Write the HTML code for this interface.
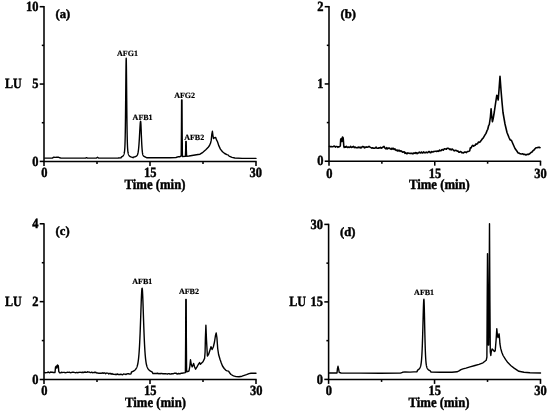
<!DOCTYPE html>
<html><head><meta charset="utf-8"><title>Chromatograms</title>
<style>html,body{margin:0;padding:0;background:#fff;}svg{display:block}</style></head>
<body><svg width="550" height="412" viewBox="0 0 550 412">
<rect width="550" height="412" fill="#fff"/>
<g filter="url(#bl)">
<path d="M44.0,6.05 V161.4 H256.65" fill="none" stroke="#000" stroke-width="1.55"/>
<path d="M39.7,6.7 H44.0" stroke="#000" stroke-width="1.55"/>
<path d="M39.7,84.05 H44.0" stroke="#000" stroke-width="1.55"/>
<path d="M39.7,161.4 H44.0" stroke="#000" stroke-width="1.55"/>
<path d="M41.8,45.375 H44.0" stroke="#000" stroke-width="1.55"/>
<path d="M41.8,122.725 H44.0" stroke="#000" stroke-width="1.55"/>
<path d="M44.0,161.4 V165.9" stroke="#000" stroke-width="1.55"/>
<path d="M150.0,161.4 V165.9" stroke="#000" stroke-width="1.55"/>
<path d="M256,161.4 V165.9" stroke="#000" stroke-width="1.55"/>
<path d="M97.0,161.4 V163.9" stroke="#000" stroke-width="1.55"/>
<path d="M203.0,161.4 V163.9" stroke="#000" stroke-width="1.55"/>
<text transform="translate(38.4,10.8) scale(0.89,1)" text-anchor="end" font-size="14.0" text-rendering="geometricPrecision" font-family="Liberation Serif, serif" font-weight="bold" stroke="#000" stroke-width="0.45">10</text>
<text transform="translate(38.4,88.14999999999999) scale(0.89,1)" text-anchor="end" font-size="14.0" text-rendering="geometricPrecision" font-family="Liberation Serif, serif" font-weight="bold" stroke="#000" stroke-width="0.45">5</text>
<text transform="translate(38.4,165.5) scale(0.89,1)" text-anchor="end" font-size="14.0" text-rendering="geometricPrecision" font-family="Liberation Serif, serif" font-weight="bold" stroke="#000" stroke-width="0.45">0</text>
<text transform="translate(44.3,177.3) scale(0.89,1)" text-anchor="middle" font-size="14.0" text-rendering="geometricPrecision" font-family="Liberation Serif, serif" font-weight="bold" stroke="#000" stroke-width="0.45">0</text>
<text transform="translate(150.3,177.3) scale(0.89,1)" text-anchor="middle" font-size="14.0" text-rendering="geometricPrecision" font-family="Liberation Serif, serif" font-weight="bold" stroke="#000" stroke-width="0.45">15</text>
<text transform="translate(255.8,177.3) scale(0.89,1)" text-anchor="middle" font-size="14.0" text-rendering="geometricPrecision" font-family="Liberation Serif, serif" font-weight="bold" stroke="#000" stroke-width="0.45">30</text>
<text transform="translate(155,188.70000000000002) scale(0.89,1)" text-anchor="middle" font-size="14.3" text-rendering="geometricPrecision" font-family="Liberation Serif, serif" font-weight="bold" stroke="#000" stroke-width="0.45">Time (min)</text>
<text transform="translate(5.0,88.25) scale(0.86,1)" text-anchor="start" font-size="14.0" text-rendering="geometricPrecision" font-family="Liberation Serif, serif" font-weight="bold" stroke="#000" stroke-width="0.45">LU</text>
<text transform="translate(55.6,17.6) scale(1.0,1)" text-anchor="start" font-size="12.6" text-rendering="geometricPrecision" font-family="Liberation Serif, serif" font-weight="bold" stroke="#000" stroke-width="0.45">(a)</text>
<path d="M44.60,158.10 L52.30,158.10 L53.80,157.20 L55.30,157.40 L56.80,157.10 L58.30,157.20 L59.80,157.80 L61.00,158.10 L85.50,158.10 L86.50,157.60 L87.50,158.10 L96.50,158.10 L97.50,157.20 L98.50,158.10 L118.00,158.00 L121.00,157.80 L121.50,156.92 L121.60,156.88 L121.70,156.84 L121.80,156.80 L121.90,156.75 L122.00,156.71 L122.10,156.65 L122.20,156.60 L122.30,156.53 L122.40,156.47 L122.50,156.40 L122.60,156.32 L122.70,156.24 L122.80,156.15 L122.90,156.05 L123.00,155.94 L123.10,155.82 L123.20,155.70 L123.30,155.55 L123.40,155.40 L123.50,155.22 L123.60,155.03 L123.70,154.82 L123.80,154.58 L123.90,154.31 L124.00,154.01 L124.10,153.66 L124.20,153.26 L124.30,152.79 L124.40,152.24 L124.50,151.57 L124.60,150.73 L124.70,149.66 L124.80,148.28 L124.90,146.46 L125.00,144.06 L125.10,140.89 L125.20,136.79 L125.30,131.55 L125.40,125.04 L125.50,117.19 L125.60,108.05 L125.70,97.83 L125.80,87.01 L125.90,76.37 L126.00,67.09 L126.10,60.63 L126.20,58.30 L126.30,60.63 L126.40,67.09 L126.50,76.37 L126.60,87.01 L126.70,97.83 L126.80,108.05 L126.90,117.19 L127.00,125.04 L127.10,131.55 L127.20,136.79 L127.30,140.89 L127.40,144.06 L127.50,146.46 L127.60,148.28 L127.70,149.66 L127.80,150.73 L127.90,151.57 L128.00,152.24 L128.10,152.79 L128.20,153.26 L128.30,153.66 L128.40,154.01 L128.50,154.31 L128.60,154.58 L128.70,154.82 L128.80,155.03 L128.90,155.22 L129.00,155.40 L129.10,155.55 L129.20,155.70 L129.30,155.82 L129.40,155.94 L129.50,156.05 L129.60,156.15 L129.70,156.24 L129.80,156.32 L129.90,156.40 L130.00,156.47 L130.10,156.53 L130.20,156.60 L130.30,156.65 L130.40,156.71 L130.50,156.75 L130.60,156.80 L130.70,156.84 L130.80,156.88 L130.90,156.92 L131.00,156.96 L133.00,157.70 L133.50,157.11 L133.60,157.09 L133.70,157.08 L133.80,157.06 L133.90,157.04 L134.00,157.02 L134.10,157.00 L134.20,156.98 L134.30,156.96 L134.40,156.93 L134.50,156.91 L134.60,156.88 L134.70,156.86 L134.80,156.83 L134.90,156.80 L135.00,156.77 L135.10,156.74 L135.20,156.70 L135.30,156.67 L135.40,156.63 L135.50,156.59 L135.60,156.55 L135.70,156.50 L135.80,156.45 L135.90,156.40 L136.00,156.35 L136.10,156.29 L136.20,156.23 L136.30,156.17 L136.40,156.10 L136.50,156.02 L136.60,155.94 L136.70,155.84 L136.80,155.74 L136.90,155.63 L137.00,155.51 L137.10,155.37 L137.20,155.22 L137.30,155.05 L137.40,154.85 L137.50,154.62 L137.60,154.37 L137.70,154.08 L137.80,153.74 L137.90,153.36 L138.00,152.92 L138.10,152.42 L138.20,151.86 L138.30,151.21 L138.40,150.49 L138.50,149.68 L138.60,148.77 L138.70,147.76 L138.80,146.64 L138.90,145.42 L139.00,144.09 L139.10,142.66 L139.20,141.13 L139.30,139.50 L139.40,137.79 L139.50,136.01 L139.60,134.19 L139.70,132.34 L139.80,130.50 L139.90,128.70 L140.00,126.99 L140.10,125.42 L140.20,124.03 L140.30,122.88 L140.40,122.02 L140.50,121.48 L140.60,121.30 L140.70,121.64 L140.80,122.62 L140.90,124.17 L141.00,126.15 L141.10,128.43 L141.20,130.89 L141.30,133.41 L141.40,135.92 L141.50,138.34 L141.60,140.62 L141.70,142.74 L141.80,144.67 L141.90,146.39 L142.00,147.92 L142.10,149.26 L142.20,150.41 L142.30,151.39 L142.40,152.22 L142.50,152.92 L142.60,153.51 L142.70,153.99 L142.80,154.40 L142.90,154.73 L143.00,155.02 L143.10,155.25 L143.20,155.46 L143.30,155.63 L143.40,155.78 L143.50,155.91 L143.60,156.02 L143.70,156.13 L143.80,156.22 L143.90,156.30 L144.00,156.38 L144.10,156.45 L144.20,156.51 L144.30,156.57 L144.40,156.63 L144.50,156.68 L144.60,156.73 L144.70,156.77 L144.80,156.81 L144.90,156.85 L145.00,156.89 L145.10,156.92 L145.20,156.96 L145.30,156.99 L145.40,157.01 L145.50,157.04 L147.00,157.80 L170.00,157.80 L176.00,157.50 L178.50,156.60 L180.00,156.70 L181.20,155.90 L181.45,130.00 L181.60,99.90 L182.00,99.90 L182.15,130.00 L182.40,156.50 L185.40,156.40 L185.65,150.00 L185.80,141.40 L186.20,141.40 L186.35,150.00 L186.60,156.20 L189.00,156.00 L192.00,155.50 L195.00,155.00 L198.00,154.50 L200.00,154.20 L202.90,152.30 L205.80,149.80 L208.00,147.60 L209.50,145.50 L210.50,143.30 L211.20,140.40 L211.80,134.50 L212.40,131.30 L212.90,135.30 L213.50,138.60 L214.50,137.70 L215.70,137.50 L216.40,139.60 L217.50,141.80 L218.90,145.90 L220.40,149.10 L222.50,151.70 L224.70,153.50 L226.90,154.60 L228.00,154.90 L229.10,156.10 L232.00,157.40 L234.90,158.00 L242.20,158.40 L256.00,158.40" fill="none" stroke="#000" stroke-width="1.4" stroke-linejoin="round" stroke-linecap="round"/>
<text transform="translate(127.5,56.2) scale(1.0,1)" text-anchor="middle" font-size="8" text-rendering="geometricPrecision" font-family="Liberation Serif, serif" font-weight="bold" stroke="#000" stroke-width="0.2">AFG1</text>
<text transform="translate(142.6,119.6) scale(1.0,1)" text-anchor="middle" font-size="8" text-rendering="geometricPrecision" font-family="Liberation Serif, serif" font-weight="bold" stroke="#000" stroke-width="0.2">AFB1</text>
<text transform="translate(184.6,98.2) scale(1.0,1)" text-anchor="middle" font-size="8" text-rendering="geometricPrecision" font-family="Liberation Serif, serif" font-weight="bold" stroke="#000" stroke-width="0.2">AFG2</text>
<text transform="translate(194.2,139.6) scale(1.0,1)" text-anchor="middle" font-size="8" text-rendering="geometricPrecision" font-family="Liberation Serif, serif" font-weight="bold" stroke="#000" stroke-width="0.2">AFB2</text>
<path d="M329.0,6.05 V161.2 H541.15" fill="none" stroke="#000" stroke-width="1.55"/>
<path d="M324.7,6.7 H329.0" stroke="#000" stroke-width="1.55"/>
<path d="M324.7,83.94999999999999 H329.0" stroke="#000" stroke-width="1.55"/>
<path d="M324.7,161.2 H329.0" stroke="#000" stroke-width="1.55"/>
<path d="M326.8,45.324999999999996 H329.0" stroke="#000" stroke-width="1.55"/>
<path d="M326.8,122.57499999999999 H329.0" stroke="#000" stroke-width="1.55"/>
<path d="M329.0,161.2 V165.7" stroke="#000" stroke-width="1.55"/>
<path d="M434.75,161.2 V165.7" stroke="#000" stroke-width="1.55"/>
<path d="M540.5,161.2 V165.7" stroke="#000" stroke-width="1.55"/>
<path d="M381.875,161.2 V163.7" stroke="#000" stroke-width="1.55"/>
<path d="M487.625,161.2 V163.7" stroke="#000" stroke-width="1.55"/>
<text transform="translate(323.4,10.8) scale(0.89,1)" text-anchor="end" font-size="14.0" text-rendering="geometricPrecision" font-family="Liberation Serif, serif" font-weight="bold" stroke="#000" stroke-width="0.45">2</text>
<text transform="translate(323.4,88.04999999999998) scale(0.89,1)" text-anchor="end" font-size="14.0" text-rendering="geometricPrecision" font-family="Liberation Serif, serif" font-weight="bold" stroke="#000" stroke-width="0.45">1</text>
<text transform="translate(323.4,165.29999999999998) scale(0.89,1)" text-anchor="end" font-size="14.0" text-rendering="geometricPrecision" font-family="Liberation Serif, serif" font-weight="bold" stroke="#000" stroke-width="0.45">0</text>
<text transform="translate(329.3,177.6) scale(0.89,1)" text-anchor="middle" font-size="14.0" text-rendering="geometricPrecision" font-family="Liberation Serif, serif" font-weight="bold" stroke="#000" stroke-width="0.45">0</text>
<text transform="translate(435.05,177.6) scale(0.89,1)" text-anchor="middle" font-size="14.0" text-rendering="geometricPrecision" font-family="Liberation Serif, serif" font-weight="bold" stroke="#000" stroke-width="0.45">15</text>
<text transform="translate(540.5,177.6) scale(0.89,1)" text-anchor="middle" font-size="14.0" text-rendering="geometricPrecision" font-family="Liberation Serif, serif" font-weight="bold" stroke="#000" stroke-width="0.45">30</text>
<text transform="translate(439.4,189.0) scale(0.89,1)" text-anchor="middle" font-size="14.3" text-rendering="geometricPrecision" font-family="Liberation Serif, serif" font-weight="bold" stroke="#000" stroke-width="0.45">Time (min)</text>
<text transform="translate(340.5,17.6) scale(1.0,1)" text-anchor="start" font-size="12.6" text-rendering="geometricPrecision" font-family="Liberation Serif, serif" font-weight="bold" stroke="#000" stroke-width="0.45">(b)</text>
<path d="M329.50,146.31 L330.33,146.67 L331.17,146.49 L332.00,146.76 L332.83,146.80 L333.67,146.21 L334.50,146.16 L335.33,147.09 L336.17,146.47 L337.00,146.46 L337.83,147.31 L338.67,146.75 L339.50,146.80 L340.30,146.00 L340.70,139.50 L341.30,138.50 L341.90,141.50 L342.50,137.00 L343.20,138.00 L343.80,146.30 L344.20,147.40 L344.92,146.88 L345.64,147.14 L346.35,146.42 L347.07,147.16 L347.79,147.52 L348.51,147.02 L349.23,147.36 L349.95,147.27 L350.66,146.37 L351.38,147.42 L352.10,147.19 L352.82,146.77 L353.54,146.37 L354.25,147.64 L354.97,147.06 L355.69,147.45 L356.41,147.70 L357.13,147.47 L357.85,147.79 L358.56,147.02 L359.28,147.64 L360.00,147.12 L360.73,147.85 L361.45,147.77 L362.18,146.60 L362.91,146.65 L363.64,146.78 L364.36,147.90 L365.09,147.10 L365.82,147.39 L366.55,146.90 L367.27,147.21 L368.00,147.03 L369.00,146.28 L370.00,147.13 L371.00,147.63 L371.73,148.12 L372.47,147.80 L373.20,148.18 L373.93,148.09 L374.67,148.30 L375.40,147.84 L376.13,147.09 L376.87,148.15 L377.60,148.32 L378.33,148.24 L379.07,147.75 L379.80,147.98 L380.53,147.24 L381.27,148.18 L382.00,147.81 L383.00,147.03 L384.00,146.35 L385.00,148.13 L386.00,148.93 L386.75,147.67 L387.50,148.82 L388.25,148.32 L389.00,148.01 L389.75,148.31 L390.50,149.10 L391.25,149.34 L392.00,148.18 L392.75,149.12 L393.50,148.35 L394.25,149.44 L395.00,148.95 L395.71,150.06 L396.43,150.49 L397.14,150.07 L397.86,151.09 L398.57,150.34 L399.29,150.28 L400.00,151.35 L400.71,150.73 L401.43,151.20 L402.14,151.75 L402.86,152.28 L403.57,151.83 L404.29,151.89 L405.00,153.35 L405.71,152.59 L406.43,153.63 L407.14,153.61 L407.86,152.90 L408.57,153.10 L409.29,153.26 L410.00,153.52 L410.71,153.41 L411.43,153.32 L412.14,153.37 L412.86,153.82 L413.57,153.13 L414.29,152.98 L415.00,153.38 L415.71,152.62 L416.43,152.68 L417.14,153.66 L417.86,152.94 L418.57,152.94 L419.29,152.10 L420.00,152.67 L420.71,152.88 L421.43,151.99 L422.14,152.85 L422.86,152.83 L423.57,151.93 L424.29,152.73 L425.00,152.45 L425.71,152.73 L426.43,152.19 L427.14,152.68 L427.86,152.69 L428.57,151.57 L429.29,151.58 L430.00,152.46 L430.73,152.80 L431.45,151.64 L432.18,151.86 L432.91,151.98 L433.64,151.48 L434.36,151.45 L435.09,151.28 L435.82,151.28 L436.55,151.53 L437.27,150.99 L438.00,151.02 L438.75,151.40 L439.50,150.07 L440.25,150.67 L441.00,150.70 L441.75,149.85 L442.50,149.51 L443.25,150.17 L444.00,149.11 L444.80,148.85 L445.60,149.04 L446.40,149.26 L447.20,148.18 L448.00,148.33 L448.80,148.53 L449.60,149.46 L450.40,149.05 L451.20,149.85 L452.00,149.00 L452.75,149.51 L453.50,150.23 L454.25,150.83 L455.00,150.43 L455.75,150.34 L456.50,150.43 L457.25,151.29 L458.00,151.04 L458.75,152.11 L459.50,152.31 L460.25,151.48 L461.00,151.77 L461.75,152.71 L462.50,152.61 L463.25,153.01 L464.00,152.47 L464.80,151.96 L465.60,152.03 L466.40,152.60 L467.20,151.64 L468.00,151.57 L468.85,151.28 L469.70,150.88 L470.30,147.86 L471.15,147.88 L472.00,145.98 L472.80,145.26 L473.60,146.16 L474.40,145.57 L475.20,145.23 L476.00,143.90 L476.80,144.18 L477.60,143.64 L478.40,142.08 L479.20,142.37 L480.00,142.01 L480.75,140.99 L481.50,140.03 L482.25,138.93 L483.00,138.26 L484.00,136.59 L485.00,134.85 L486.00,133.38 L487.00,130.68 L487.77,129.30 L488.53,125.98 L489.30,124.50 L490.40,117.00 L491.10,108.80 L491.70,116.00 L492.40,121.70 L493.20,118.50 L494.30,112.00 L495.60,103.00 L496.80,95.20 L497.60,97.00 L498.20,100.00 L499.00,90.00 L500.00,76.20 L501.00,90.00 L502.00,102.00 L503.00,112.50 L505.00,124.00 L507.00,132.50 L509.00,137.50 L510.00,139.70 L511.50,140.50 L513.00,144.00 L515.00,148.50 L517.00,151.30 L518.00,152.86 L518.80,152.97 L519.60,153.48 L520.40,153.76 L521.20,154.06 L522.00,154.07 L522.80,153.72 L523.60,154.54 L524.40,154.18 L525.20,154.46 L526.00,154.95 L526.80,154.60 L527.60,154.28 L528.40,154.54 L529.20,154.02 L530.00,153.56 L531.00,152.48 L532.00,152.03 L533.00,150.68 L534.00,150.05 L535.00,148.77 L536.00,147.73 L537.00,147.63 L538.00,147.49 L539.00,147.15 L540.00,147.70" fill="none" stroke="#000" stroke-width="1.6" stroke-linejoin="round" stroke-linecap="round"/>
<path d="M44.0,223.15 V379.5 H256.65" fill="none" stroke="#000" stroke-width="1.55"/>
<path d="M39.7,223.8 H44.0" stroke="#000" stroke-width="1.55"/>
<path d="M39.7,301.65 H44.0" stroke="#000" stroke-width="1.55"/>
<path d="M39.7,379.5 H44.0" stroke="#000" stroke-width="1.55"/>
<path d="M41.8,262.725 H44.0" stroke="#000" stroke-width="1.55"/>
<path d="M41.8,340.575 H44.0" stroke="#000" stroke-width="1.55"/>
<path d="M44.0,379.5 V384.0" stroke="#000" stroke-width="1.55"/>
<path d="M150.0,379.5 V384.0" stroke="#000" stroke-width="1.55"/>
<path d="M256,379.5 V384.0" stroke="#000" stroke-width="1.55"/>
<path d="M97.0,379.5 V382.0" stroke="#000" stroke-width="1.55"/>
<path d="M203.0,379.5 V382.0" stroke="#000" stroke-width="1.55"/>
<text transform="translate(38.4,227.9) scale(0.89,1)" text-anchor="end" font-size="14.0" text-rendering="geometricPrecision" font-family="Liberation Serif, serif" font-weight="bold" stroke="#000" stroke-width="0.45">4</text>
<text transform="translate(38.4,305.75) scale(0.89,1)" text-anchor="end" font-size="14.0" text-rendering="geometricPrecision" font-family="Liberation Serif, serif" font-weight="bold" stroke="#000" stroke-width="0.45">2</text>
<text transform="translate(38.4,383.6) scale(0.89,1)" text-anchor="end" font-size="14.0" text-rendering="geometricPrecision" font-family="Liberation Serif, serif" font-weight="bold" stroke="#000" stroke-width="0.45">0</text>
<text transform="translate(44.3,395.4) scale(0.89,1)" text-anchor="middle" font-size="14.0" text-rendering="geometricPrecision" font-family="Liberation Serif, serif" font-weight="bold" stroke="#000" stroke-width="0.45">0</text>
<text transform="translate(150.3,395.4) scale(0.89,1)" text-anchor="middle" font-size="14.0" text-rendering="geometricPrecision" font-family="Liberation Serif, serif" font-weight="bold" stroke="#000" stroke-width="0.45">15</text>
<text transform="translate(256.3,395.4) scale(0.89,1)" text-anchor="middle" font-size="14.0" text-rendering="geometricPrecision" font-family="Liberation Serif, serif" font-weight="bold" stroke="#000" stroke-width="0.45">30</text>
<text transform="translate(155.5,406.7) scale(0.89,1)" text-anchor="middle" font-size="14.3" text-rendering="geometricPrecision" font-family="Liberation Serif, serif" font-weight="bold" stroke="#000" stroke-width="0.45">Time (min)</text>
<text transform="translate(5.0,305.84999999999997) scale(0.86,1)" text-anchor="start" font-size="14.0" text-rendering="geometricPrecision" font-family="Liberation Serif, serif" font-weight="bold" stroke="#000" stroke-width="0.45">LU</text>
<text transform="translate(55.6,234.70000000000002) scale(1.0,1)" text-anchor="start" font-size="12.6" text-rendering="geometricPrecision" font-family="Liberation Serif, serif" font-weight="bold" stroke="#000" stroke-width="0.45">(c)</text>
<path d="M44.60,372.56 L45.47,372.70 L46.33,372.61 L47.20,372.64 L48.07,371.92 L48.93,372.50 L49.80,372.73 L50.67,372.01 L51.53,372.23 L52.40,372.24 L53.27,372.49 L54.13,372.41 L55.00,372.48 L55.50,367.25 L56.30,366.05 L56.80,368.10 L57.50,364.96 L58.30,365.66 L58.80,371.61 L59.65,372.73 L60.50,372.92 L61.31,372.22 L62.11,372.59 L62.92,372.42 L63.72,372.41 L64.53,372.44 L65.33,372.70 L66.14,372.64 L66.94,372.43 L67.75,372.27 L68.56,372.39 L69.36,372.20 L70.17,372.58 L70.97,372.72 L71.78,372.41 L72.58,372.14 L73.39,372.22 L74.19,372.39 L75.00,372.59 L75.83,372.73 L76.67,372.35 L77.50,372.70 L78.33,372.52 L79.17,372.33 L80.00,372.25 L80.83,372.34 L81.67,372.50 L82.50,372.23 L83.33,372.45 L84.17,372.22 L85.00,372.00 L85.83,372.24 L86.67,372.36 L87.50,371.78 L88.33,372.08 L89.17,372.06 L90.00,372.44 L90.83,372.57 L91.67,372.14 L92.50,372.68 L93.33,372.66 L94.17,372.26 L95.00,372.52 L95.83,372.29 L96.67,372.98 L97.50,372.92 L98.33,373.20 L99.17,373.19 L100.00,373.15 L100.80,373.27 L101.60,373.18 L102.40,372.82 L103.20,373.32 L104.00,372.85 L104.80,373.04 L105.60,373.67 L106.40,373.07 L107.20,373.17 L108.00,373.24 L108.80,374.00 L109.60,373.43 L110.40,373.35 L111.20,374.15 L112.00,373.56 L112.80,374.27 L113.60,374.18 L114.40,374.38 L115.20,374.55 L116.00,374.27 L116.80,374.53 L117.60,373.90 L118.40,374.62 L119.20,374.45 L120.00,374.69 L120.88,374.10 L121.75,374.62 L122.62,374.74 L123.50,373.91 L124.38,374.09 L125.25,374.26 L126.12,374.45 L127.00,373.87 L127.80,373.75 L128.60,373.75 L129.40,374.02 L130.20,374.09 L131.00,373.80 L131.50,371.97 L131.60,371.94 L131.70,371.91 L131.80,371.87 L131.90,371.84 L132.00,371.80 L132.10,371.76 L132.20,371.73 L132.30,371.69 L132.40,371.65 L132.50,371.61 L132.60,371.56 L132.70,371.52 L132.80,371.47 L132.90,371.43 L133.00,371.38 L133.10,371.33 L133.20,371.28 L133.30,371.22 L133.40,371.17 L133.50,371.11 L133.60,371.06 L133.70,371.00 L133.80,370.93 L133.90,370.87 L134.00,370.80 L134.10,370.73 L134.20,370.66 L134.30,370.59 L134.40,370.51 L134.50,370.43 L134.60,370.35 L134.70,370.26 L134.80,370.17 L134.90,370.08 L135.00,369.98 L135.10,369.88 L135.20,369.78 L135.30,369.67 L135.40,369.56 L135.50,369.44 L135.60,369.32 L135.70,369.19 L135.80,369.05 L135.90,368.91 L136.00,368.76 L136.10,368.61 L136.20,368.44 L136.30,368.27 L136.40,368.08 L136.50,367.89 L136.60,367.68 L136.70,367.47 L136.80,367.24 L136.90,366.99 L137.00,366.72 L137.10,366.44 L137.20,366.14 L137.30,365.81 L137.40,365.46 L137.50,365.09 L137.60,364.68 L137.70,364.24 L137.80,363.76 L137.90,363.25 L138.00,362.69 L138.10,362.08 L138.20,361.43 L138.30,360.71 L138.40,359.94 L138.50,359.11 L138.60,358.20 L138.70,357.22 L138.80,356.17 L138.90,355.03 L139.00,353.80 L139.10,352.47 L139.20,351.06 L139.30,349.54 L139.40,347.91 L139.50,346.18 L139.60,344.34 L139.70,342.39 L139.80,340.32 L139.90,338.14 L140.00,335.85 L140.10,333.45 L140.20,330.95 L140.30,328.35 L140.40,325.65 L140.50,322.88 L140.60,320.04 L140.70,317.14 L140.80,314.21 L140.90,311.28 L141.00,308.36 L141.10,305.48 L141.20,302.69 L141.30,300.03 L141.40,297.53 L141.50,295.24 L141.60,293.20 L141.70,291.46 L141.80,290.06 L141.90,289.04 L142.00,288.41 L142.10,288.20 L142.20,288.42 L142.30,289.08 L142.40,290.16 L142.50,291.64 L142.60,293.46 L142.70,295.59 L142.80,297.99 L142.90,300.59 L143.00,303.36 L143.10,306.25 L143.20,309.22 L143.30,312.23 L143.40,315.24 L143.50,318.24 L143.60,321.20 L143.70,324.09 L143.80,326.90 L143.90,329.63 L144.00,332.25 L144.10,334.76 L144.20,337.17 L144.30,339.45 L144.40,341.62 L144.50,343.67 L144.60,345.60 L144.70,347.41 L144.80,349.11 L144.90,350.70 L145.00,352.18 L145.10,353.55 L145.20,354.83 L145.30,356.02 L145.40,357.11 L145.50,358.13 L145.60,359.06 L145.70,359.92 L145.80,360.71 L145.90,361.44 L146.00,362.12 L146.10,362.74 L146.20,363.30 L146.30,363.83 L146.40,364.31 L146.50,364.76 L146.60,365.17 L146.70,365.55 L146.80,365.90 L146.90,366.23 L147.00,366.54 L147.10,366.82 L147.20,367.08 L147.30,367.33 L147.40,367.56 L147.50,367.78 L147.60,367.99 L147.70,368.18 L147.80,368.36 L147.90,368.54 L148.00,368.70 L148.10,368.85 L148.20,369.00 L148.30,369.14 L148.40,369.28 L148.50,369.41 L148.60,369.53 L148.70,369.65 L148.80,369.76 L148.90,369.87 L149.00,369.97 L149.10,370.07 L149.20,370.17 L149.30,370.26 L149.40,370.35 L149.50,370.43 L149.60,370.51 L149.70,370.59 L149.80,370.67 L149.90,370.74 L150.00,370.81 L150.10,370.88 L150.20,370.94 L150.30,371.01 L150.40,371.07 L150.50,371.13 L150.60,371.19 L150.70,371.24 L150.80,371.30 L150.90,371.35 L151.00,371.40 L151.10,371.45 L151.20,371.49 L151.30,371.54 L151.40,371.58 L151.50,371.63 L151.60,371.67 L151.70,371.71 L151.80,371.75 L151.90,371.79 L152.00,371.82 L153.00,373.53 L153.88,373.49 L154.75,373.50 L155.62,373.46 L156.50,373.49 L157.38,373.25 L158.25,373.53 L159.12,373.84 L160.00,373.44 L160.83,373.71 L161.67,373.33 L162.50,373.73 L163.33,373.81 L164.17,373.79 L165.00,373.71 L165.83,373.72 L166.67,373.87 L167.50,374.08 L168.33,373.59 L169.17,373.58 L170.00,374.07 L170.86,374.11 L171.71,373.74 L172.57,373.60 L173.43,373.71 L174.29,373.25 L175.14,373.22 L176.00,373.09 L177.00,374.06 L177.83,373.74 L178.67,373.55 L179.50,373.73 L180.33,373.78 L181.17,373.19 L182.00,373.20 L185.40,372.60 L185.65,340.00 L185.80,299.40 L186.20,299.40 L186.35,340.00 L186.60,371.70 L187.60,371.50 L189.00,371.00 L189.90,366.00 L190.50,359.80 L191.30,364.50 L192.20,366.90 L193.60,363.50 L194.60,367.00 L195.60,369.20 L197.00,366.90 L198.30,364.50 L199.60,362.60 L200.40,364.30 L201.70,363.00 L203.00,361.80 L204.60,358.40 L205.10,352.00 L205.40,338.00 L205.90,325.30 L206.50,340.00 L207.40,356.00 L208.70,354.00 L210.00,350.00 L211.00,346.70 L212.10,349.50 L213.30,347.00 L214.50,342.00 L215.40,336.00 L216.20,333.00 L216.90,337.50 L217.70,348.50 L218.60,354.50 L220.00,359.20 L221.30,363.00 L222.50,366.00 L224.20,368.50 L225.90,370.30 L227.20,370.90 L228.50,371.10 L229.80,373.00 L231.00,374.50 L233.50,375.80 L236.10,376.60 L239.00,376.70 L242.00,376.20 L246.50,374.60 L249.00,373.60 L251.00,373.20 L256.00,373.20" fill="none" stroke="#000" stroke-width="1.4" stroke-linejoin="round" stroke-linecap="round"/>
<text transform="translate(142.3,284) scale(1.0,1)" text-anchor="middle" font-size="8" text-rendering="geometricPrecision" font-family="Liberation Serif, serif" font-weight="bold" stroke="#000" stroke-width="0.2">AFB1</text>
<text transform="translate(188.9,294) scale(1.0,1)" text-anchor="middle" font-size="8" text-rendering="geometricPrecision" font-family="Liberation Serif, serif" font-weight="bold" stroke="#000" stroke-width="0.2">AFB2</text>
<path d="M328.6,223.75 V379.4 H541.15" fill="none" stroke="#000" stroke-width="1.55"/>
<path d="M324.3,224.4 H328.6" stroke="#000" stroke-width="1.55"/>
<path d="M324.3,301.9 H328.6" stroke="#000" stroke-width="1.55"/>
<path d="M324.3,379.4 H328.6" stroke="#000" stroke-width="1.55"/>
<path d="M326.40000000000003,263.15 H328.6" stroke="#000" stroke-width="1.55"/>
<path d="M326.40000000000003,340.65 H328.6" stroke="#000" stroke-width="1.55"/>
<path d="M328.6,379.4 V383.9" stroke="#000" stroke-width="1.55"/>
<path d="M434.55,379.4 V383.9" stroke="#000" stroke-width="1.55"/>
<path d="M540.5,379.4 V383.9" stroke="#000" stroke-width="1.55"/>
<path d="M381.57500000000005,379.4 V381.9" stroke="#000" stroke-width="1.55"/>
<path d="M487.525,379.4 V381.9" stroke="#000" stroke-width="1.55"/>
<text transform="translate(323.0,228.5) scale(0.89,1)" text-anchor="end" font-size="14.0" text-rendering="geometricPrecision" font-family="Liberation Serif, serif" font-weight="bold" stroke="#000" stroke-width="0.45">30</text>
<text transform="translate(323.0,306.0) scale(0.89,1)" text-anchor="end" font-size="14.0" text-rendering="geometricPrecision" font-family="Liberation Serif, serif" font-weight="bold" stroke="#000" stroke-width="0.45">15</text>
<text transform="translate(323.0,383.5) scale(0.89,1)" text-anchor="end" font-size="14.0" text-rendering="geometricPrecision" font-family="Liberation Serif, serif" font-weight="bold" stroke="#000" stroke-width="0.45">0</text>
<text transform="translate(328.90000000000003,395.29999999999995) scale(0.89,1)" text-anchor="middle" font-size="14.0" text-rendering="geometricPrecision" font-family="Liberation Serif, serif" font-weight="bold" stroke="#000" stroke-width="0.45">0</text>
<text transform="translate(434.85,395.29999999999995) scale(0.89,1)" text-anchor="middle" font-size="14.0" text-rendering="geometricPrecision" font-family="Liberation Serif, serif" font-weight="bold" stroke="#000" stroke-width="0.45">15</text>
<text transform="translate(540.5,395.29999999999995) scale(0.89,1)" text-anchor="middle" font-size="14.0" text-rendering="geometricPrecision" font-family="Liberation Serif, serif" font-weight="bold" stroke="#000" stroke-width="0.45">30</text>
<text transform="translate(439,406.59999999999997) scale(0.89,1)" text-anchor="middle" font-size="14.3" text-rendering="geometricPrecision" font-family="Liberation Serif, serif" font-weight="bold" stroke="#000" stroke-width="0.45">Time (min)</text>
<text transform="translate(289.2,306.09999999999997) scale(0.86,1)" text-anchor="start" font-size="14.0" text-rendering="geometricPrecision" font-family="Liberation Serif, serif" font-weight="bold" stroke="#000" stroke-width="0.45">LU</text>
<text transform="translate(340.0,235.8) scale(1.0,1)" text-anchor="start" font-size="12.6" text-rendering="geometricPrecision" font-family="Liberation Serif, serif" font-weight="bold" stroke="#000" stroke-width="0.45">(d)</text>
<path d="M329.20,373.00 L337.00,373.00 L337.50,368.30 L338.00,366.30 L338.60,368.80 L339.20,372.30 L341.00,373.00 L360.00,373.10 L380.00,373.20 L400.50,373.10 L402.50,372.30 L405.00,371.90 L410.00,372.10 L414.00,371.90 L417.00,371.80 L417.50,370.20 L417.60,370.15 L417.70,370.10 L417.80,370.05 L417.90,369.99 L418.00,369.93 L418.10,369.87 L418.20,369.80 L418.30,369.74 L418.40,369.66 L418.50,369.59 L418.60,369.51 L418.70,369.42 L418.80,369.33 L418.90,369.24 L419.00,369.14 L419.10,369.04 L419.20,368.92 L419.30,368.81 L419.40,368.68 L419.50,368.55 L419.60,368.40 L419.70,368.25 L419.80,368.08 L419.90,367.91 L420.00,367.71 L420.10,367.50 L420.20,367.28 L420.30,367.03 L420.40,366.75 L420.50,366.45 L420.60,366.11 L420.70,365.73 L420.80,365.31 L420.90,364.83 L421.00,364.29 L421.10,363.68 L421.20,362.98 L421.30,362.19 L421.40,361.29 L421.50,360.27 L421.60,359.11 L421.70,357.80 L421.80,356.32 L421.90,354.66 L422.00,352.81 L422.10,350.76 L422.20,348.49 L422.30,346.00 L422.40,343.28 L422.50,340.35 L422.60,337.20 L422.70,333.85 L422.80,330.33 L422.90,326.67 L423.00,322.91 L423.10,319.11 L423.20,315.35 L423.30,311.73 L423.40,308.34 L423.50,305.33 L423.60,302.80 L423.70,300.90 L423.80,299.70 L423.90,299.30 L424.00,299.93 L424.10,301.77 L424.20,304.65 L424.30,308.34 L424.40,312.61 L424.50,317.22 L424.60,321.96 L424.70,326.67 L424.80,331.23 L424.90,335.55 L425.00,339.58 L425.10,343.28 L425.20,346.64 L425.30,349.65 L425.40,352.32 L425.50,354.66 L425.60,356.71 L425.70,358.47 L425.80,359.99 L425.90,361.29 L426.00,362.40 L426.10,363.34 L426.20,364.14 L426.30,364.83 L426.40,365.42 L426.50,365.93 L426.60,366.37 L426.70,366.75 L426.80,367.09 L426.90,367.39 L427.00,367.66 L427.10,367.91 L427.20,368.13 L427.30,368.33 L427.40,368.51 L427.50,368.68 L427.60,368.84 L427.70,368.98 L427.80,369.12 L427.90,369.24 L428.00,369.36 L428.10,369.47 L428.20,369.57 L428.30,369.66 L428.40,369.75 L428.50,369.84 L428.60,369.92 L428.70,369.99 L428.80,370.06 L428.90,370.13 L429.00,370.19 L429.10,370.25 L429.20,370.30 L429.30,370.36 L429.40,370.41 L429.50,370.46 L429.60,370.50 L429.70,370.54 L429.80,370.59 L429.90,370.62 L430.00,370.66 L431.00,372.00 L440.00,372.30 L452.00,372.30 L457.00,371.80 L459.00,370.90 L461.00,369.60 L463.00,368.90 L466.00,368.10 L470.00,366.90 L475.00,365.50 L479.00,364.30 L483.00,362.80 L486.20,360.30 L486.90,357.00 L487.20,300.00 L487.50,253.80 L487.90,300.00 L488.30,345.00 L488.70,345.00 L489.10,300.00 L489.50,223.80 L489.90,300.00 L490.30,352.00 L490.80,355.50 L491.30,351.50 L492.10,348.90 L493.40,350.30 L494.40,351.50 L495.20,351.00 L496.10,340.00 L496.80,328.80 L497.40,335.00 L498.00,337.50 L499.10,333.80 L499.60,339.00 L499.90,343.70 L500.70,348.40 L501.80,352.30 L503.10,355.50 L505.50,359.40 L507.80,362.60 L511.00,365.70 L514.10,368.10 L518.90,371.30 L524.00,372.30 L530.00,372.80 L540.50,373.00" fill="none" stroke="#000" stroke-width="1.4" stroke-linejoin="round" stroke-linecap="round"/>
<text transform="translate(424.1,294.5) scale(1.0,1)" text-anchor="middle" font-size="8" text-rendering="geometricPrecision" font-family="Liberation Serif, serif" font-weight="bold" stroke="#000" stroke-width="0.2">AFB1</text>
</g>
<defs><filter id="bl" x="0" y="0" width="550" height="412" filterUnits="userSpaceOnUse"><feGaussianBlur stdDeviation="0.3"/></filter></defs>
</svg></body></html>
